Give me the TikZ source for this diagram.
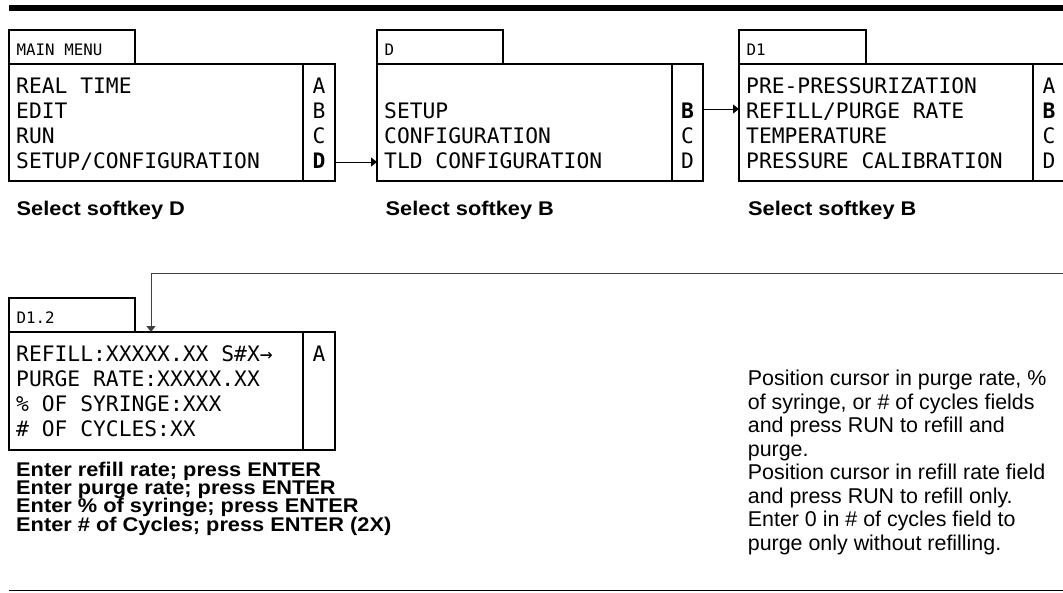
\documentclass[tikz,border=0pt]{standalone}
\usepackage{fontspec}
\setmainfont{Liberation Sans}
\newfontfamily\monof{DejaVu Sans Mono}
\newfontfamily\boldf[FakeStretch=1.1]{Liberation Sans Bold}
\usetikzlibrary{arrows.meta}
\begin{document}
\begin{tikzpicture}[x=1pt,y=-1pt,
  box/.style={draw, line width=1.1pt, inner sep=0pt, outer sep=0pt, anchor=north west},
  sep/.style={line width=1.1pt},
  mono/.style={font=\monof\fontsize{21.3}{24}\selectfont, inner sep=0pt, anchor=base west},
  ttl/.style={font=\monof\fontsize{15.8}{18}\selectfont, inner sep=0pt, anchor=base west},
  key/.style={font=\monof\fontsize{21.3}{24}\selectfont, inner sep=0pt, anchor=base},
  bkey/.style={font=\monof\bfseries\fontsize{21.3}{24}\selectfont, inner sep=0pt, anchor=base},
  lbl/.style={font=\boldf\fontsize{19.8}{18}\selectfont, inner sep=0pt, anchor=base west},
  note/.style={font=\fontsize{21.4}{23.5}\selectfont, inner sep=0pt, anchor=base west},
  arr/.style={line width=1pt, -{Triangle[length=6pt,width=9pt]}}
]
\useasboundingbox (0,0) rectangle (1063,592);

% rules
\draw[line width=6pt] (9,8) -- (1063,8);
\draw[line width=1.5pt] (9,590.5) -- (1063,590.5);

% ---------- MAIN MENU ----------
\node[box, minimum width=126pt, minimum height=34pt] (mtitle) at (9,30) {};
\node[ttl] (mt) at (16.5,55) {MAIN MENU};
\node[box, minimum width=326pt, minimum height=117pt] (mbody) at (9,64) {};
\draw[sep] ([xshift=294pt]mbody.north west) -- ([xshift=294pt]mbody.south west);
\node[mono] (m1) at (16,93.5) {REAL TIME};
\node[mono] (m2) at (16,118.4) {EDIT};
\node[mono] (m3) at (16,143.3) {RUN};
\node[mono] (m4) at (16,168.2) {SETUP/CONFIGURATION};
\node[key] (mA) at (319,93.5) {A};
\node[key] (mB) at (319,118.4) {B};
\node[key] (mC) at (319,143.3) {C};
\node[bkey] (mD) at (319,168.2) {D};
\node[lbl] (ms) at (16.5,215.5) {Select softkey D};

% ---------- D ----------
\node[box, minimum width=126pt, minimum height=34pt] (dtitle) at (377,30) {};
\node[ttl] (dt) at (384.5,55) {D};
\node[box, minimum width=326pt, minimum height=117pt] (dbody) at (377,64) {};
\draw[sep] ([xshift=295pt]dbody.north west) -- ([xshift=295pt]dbody.south west);
\node[mono] (d2) at (384,118.4) {SETUP};
\node[mono] (d3) at (384,143.3) {CONFIGURATION};
\node[mono] (d4) at (384,168.2) {TLD CONFIGURATION};
\node[bkey] (dB) at (687.5,118.4) {B};
\node[key] (dC) at (687.5,143.3) {C};
\node[key] (dD) at (687.5,168.2) {D};
\node[lbl] (ds) at (385.5,215.5) {Select softkey B};

% ---------- D1 ----------
\node[box, minimum width=127pt, minimum height=34pt] (d1title) at (739,30) {};
\node[ttl] (d1t) at (746.5,55) {D1};
\node[box, minimum width=326pt, minimum height=117pt] (d1body) at (739,64) {};
\draw[sep] ([xshift=294pt]d1body.north west) -- ([xshift=294pt]d1body.south west);
\node[mono] (e1) at (746,93.5) {PRE-PRESSURIZATION};
\node[mono] (e2) at (746,118.4) {REFILL/PURGE RATE};
\node[mono] (e3) at (746,143.3) {TEMPERATURE};
\node[mono] (e4) at (746,168.2) {PRESSURE CALIBRATION};
\node[key] (eA) at (1049,93.5) {A};
\node[bkey] (eB) at (1049,118.4) {B};
\node[key] (eC) at (1049,143.3) {C};
\node[key] (eD) at (1049,168.2) {D};
\node[lbl] (es) at (748,215.5) {Select softkey B};

% ---------- D1.2 ----------
\node[box, minimum width=126pt, minimum height=34pt] (d12title) at (9,298) {};
\node[ttl] (ft) at (16.5,323) {D1.2};
\node[box, minimum width=326pt, minimum height=118pt] (d12body) at (9,332) {};
\draw[sep] ([xshift=294pt]d12body.north west) -- ([xshift=294pt]d12body.south west);
\node[mono] (f1) at (16,361.7) {REFILL:XXXXX.XX S\#X→};
\node[mono] (f2) at (16,386.6) {PURGE RATE:XXXXX.XX};
\node[mono] (f3) at (16,411.5) {\% OF SYRINGE:XXX};
\node[mono] (f4) at (16,436.4) {\# OF CYCLES:XX};
\node[key] (fA) at (319,361.7) {A};

\node[lbl] (b1) at (16,476) {Enter refill rate; press ENTER};
\node[lbl] (b2) at (16,494.3) {Enter purge rate; press ENTER};
\node[lbl] (b3) at (16,512.6) {Enter \% of syringe; press ENTER};
\node[lbl] (b4) at (16,531) {Enter \# of Cycles; press ENTER (2X)};

% ---------- note ----------
\node[note] (n1) at (747.7,385.5) {Position cursor in purge rate, \%};
\node[note] (n2) at (747.7,409) {of syringe, or \# of cycles fields};
\node[note] (n3) at (747.7,432.5) {and press RUN to refill and};
\node[note] (n4) at (747.7,456) {purge.};
\node[note] (n5) at (747.7,479.5) {Position cursor in refill rate field};
\node[note] (n6) at (747.7,503) {and press RUN to refill only.};
\node[note] (n7) at (747.7,526.5) {Enter 0 in \# of cycles field to};
\node[note] (n8) at (747.7,550) {purge only without refilling.};

% ---------- connectors ----------
\draw[arr] (mbody.east |- 0,162) -- (dbody.west |- 0,162);
\draw[arr] (dbody.east |- 0,109) -- (d1body.west |- 0,109);
\coordinate (offR) at (1075,273);
\coordinate (turn) at (151,273);
\draw[arr, draw=black!75] (offR) -- (turn) -- (turn |- d12body.north);
\end{tikzpicture}
\end{document}
